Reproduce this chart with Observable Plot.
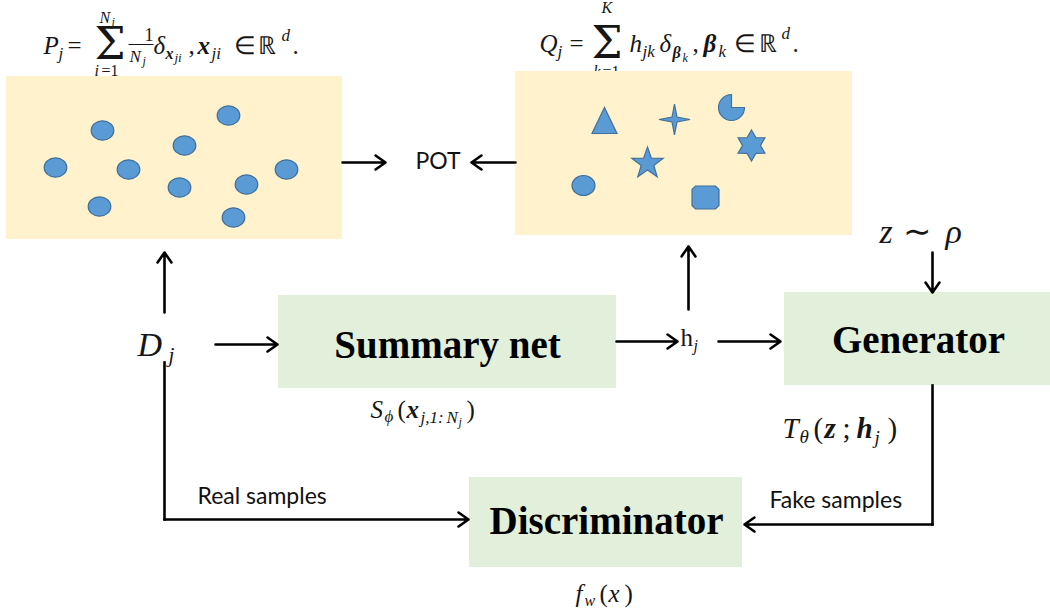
<!DOCTYPE html>
<html>
<head>
<meta charset="utf-8">
<script src="https://cdn.jsdelivr.net/npm/d3@7"></script>
<script src="https://cdn.jsdelivr.net/npm/@observablehq/plot@0.6"></script>
<style>
  html, body { margin: 0; padding: 0; background: #ffffff; }
  #chart svg { display: block; }
</style>
</head>
<body>
<div id="chart"></div>
<script>
// ---------- data ----------
const panels = [
  {name: "P", x1: 6, x2: 342, y1: 76, y2: 239},
  {name: "Q", x1: 515, x2: 852, y1: 71, y2: 235}
];
const blocks = [
  {label: "Summary net", x1: 278, x2: 616, y1: 295, y2: 388, cx: 447, cy: 345},
  {label: "Generator", x1: 784, x2: 1050, y1: 292, y2: 385, cx: 918, cy: 340},
  {label: "Discriminator", x1: 469, x2: 742, y1: 477, y2: 567, cx: 606, cy: 521}
];
const samplePoints = [
  {x: 102, y: 130}, {x: 55, y: 167}, {x: 128, y: 169}, {x: 99, y: 206},
  {x: 184, y: 145}, {x: 228, y: 115}, {x: 179, y: 187}, {x: 246, y: 184},
  {x: 286, y: 169}, {x: 233, y: 217}
];
const atoms = [
  {shape: "triangle", x: 604, y: 120},
  {shape: "sparkle", x: 674, y: 119},
  {shape: "pie", x: 731, y: 107},
  {shape: "hexagram", x: 751, y: 145},
  {shape: "star", x: 647, y: 163},
  {shape: "ellipse", x: 583, y: 185},
  {shape: "octagon", x: 705, y: 197}
];
const flowLines = [
  {x1: 164, y1: 362, x2: 164, y2: 519},
  {x1: 932, y1: 385, x2: 932, y2: 524}
];
const flowArrows = [
  {x1: 342, y1: 162, x2: 385, y2: 162},
  {x1: 515, y1: 162, x2: 471, y2: 162},
  {x1: 164, y1: 312, x2: 164, y2: 252},
  {x1: 215, y1: 344, x2: 277, y2: 344},
  {x1: 616, y1: 341, x2: 677, y2: 341},
  {x1: 688, y1: 309, x2: 688, y2: 246},
  {x1: 718, y1: 341, x2: 780, y2: 341},
  {x1: 932, y1: 252, x2: 932, y2: 292},
  {x1: 164, y1: 519, x2: 468, y2: 519},
  {x1: 932, y1: 524, x2: 744, y2: 524}
];
const plainLabels = [
  {text: "POT", x: 415, y: 168},
  {text: "Real samples", x: 197, y: 503},
  {text: "Fake samples", x: 769, y: 507}
];
const fractionBars = [{x1: 128, x2: 153, y1: 44, y2: 44}];
// math pieces: t = text, f = face (r roman, i italic, bi bold italic, s big operator)
const mathSegments = [
  // P_j = sum_{i=1}^{N_j} 1/N_j delta_{x_ji}, x_ji in R^d.
  {t: "P", x: 43, y: 53, size: 25, f: "i"},
  {t: "j", x: 58, y: 58, size: 17, f: "i"},
  {t: "=", x: 67, y: 53, size: 25, f: "r"},
  {t: "Σ", x: 94, y: 58, size: 44, f: "s"},
  {t: "N", x: 99, y: 22, size: 16, f: "i"},
  {t: "j", x: 111, y: 25, size: 12, f: "i"},
  {t: "i", x: 94, y: 75, size: 16, f: "i"},
  {t: "=1", x: 101, y: 75, size: 16, f: "r"},
  {t: "1", x: 144, y: 40, size: 18, f: "r"},
  {t: "N", x: 129, y: 61, size: 17, f: "i"},
  {t: "j", x: 142, y: 64, size: 12, f: "i"},
  {t: "δ", x: 153, y: 53, size: 25, f: "i"},
  {t: "x", x: 165, y: 58, size: 16, f: "bi"},
  {t: "ji", x: 174, y: 61, size: 13, f: "i"},
  {t: ",", x: 188, y: 53, size: 25, f: "r"},
  {t: "x", x: 197, y: 53, size: 25, f: "bi"},
  {t: "ji", x: 211, y: 58, size: 17, f: "i"},
  {t: "∈", x: 233, y: 53, size: 25, f: "r"},
  {t: "ℝ", x: 257, y: 53, size: 25, f: "r"},
  {t: "d", x: 281, y: 40, size: 17, f: "i"},
  {t: ".", x: 292, y: 53, size: 25, f: "r"},
  // Q_j = sum_{k=1}^{K} h_jk delta_{beta_k}, beta_k in R^d.
  {t: "Q", x: 539, y: 51, size: 25, f: "i"},
  {t: "j", x: 557, y: 56, size: 17, f: "i"},
  {t: "=", x: 569, y: 51, size: 25, f: "r"},
  {t: "Σ", x: 591, y: 57, size: 44, f: "s"},
  {t: "K", x: 601, y: 12, size: 16, f: "i"},
  {t: "k", x: 593, y: 76, size: 16, f: "i"},
  {t: "=1", x: 602, y: 76, size: 16, f: "r"},
  {t: "h", x: 629, y: 51, size: 25, f: "i"},
  {t: "jk", x: 642, y: 56, size: 17, f: "i"},
  {t: "δ", x: 659, y: 51, size: 25, f: "i"},
  {t: "β", x: 672, y: 57, size: 16, f: "bi"},
  {t: "k", x: 682, y: 61, size: 12, f: "i"},
  {t: ",", x: 692, y: 51, size: 25, f: "r"},
  {t: "β", x: 703, y: 51, size: 25, f: "bi"},
  {t: "k", x: 718, y: 56, size: 17, f: "i"},
  {t: "∈", x: 733, y: 51, size: 25, f: "r"},
  {t: "ℝ", x: 758, y: 51, size: 25, f: "r"},
  {t: "d", x: 781, y: 38, size: 17, f: "i"},
  {t: ".", x: 792, y: 51, size: 25, f: "r"},
  // D_j
  {t: "D", x: 137, y: 355, size: 34, f: "i"},
  {t: "j", x: 168, y: 361, size: 21, f: "i"},
  // h_j
  {t: "h", x: 680, y: 345, size: 25, f: "r"},
  {t: "j", x: 693, y: 350, size: 16, f: "i"},
  // S_phi(x_{j,1:N_j})
  {t: "S", x: 370, y: 417, size: 25, f: "i"},
  {t: "ϕ", x: 384, y: 421, size: 17, f: "i"},
  {t: "(", x: 397, y: 417, size: 25, f: "r"},
  {t: "x", x: 406, y: 417, size: 25, f: "bi"},
  {t: "j,1:", x: 420, y: 422, size: 17, f: "i"},
  {t: "N", x: 446, y: 422, size: 17, f: "i"},
  {t: "j", x: 458, y: 425, size: 12, f: "i"},
  {t: ")", x: 466, y: 417, size: 25, f: "r"},
  // z ~ rho
  {t: "z", x: 879, y: 242, size: 34, f: "i"},
  {t: "∼", x: 902, y: 242, size: 34, f: "r"},
  {t: "ρ", x: 945, y: 242, size: 34, f: "i"},
  // T_theta(z; h_j)
  {t: "T", x: 782, y: 437, size: 29, f: "i"},
  {t: "θ", x: 799, y: 442, size: 19, f: "i"},
  {t: "(", x: 813, y: 437, size: 29, f: "r"},
  {t: "z", x: 824, y: 437, size: 29, f: "bi"},
  {t: ";", x: 842, y: 437, size: 29, f: "r"},
  {t: "h", x: 856, y: 437, size: 29, f: "bi"},
  {t: "j", x: 874, y: 443, size: 19, f: "i"},
  {t: ")", x: 887, y: 437, size: 29, f: "r"},
  // f_w(x)
  {t: "f", x: 575, y: 601, size: 25, f: "i"},
  {t: "w", x: 584, y: 605, size: 16, f: "i"},
  {t: "(", x: 599, y: 601, size: 25, f: "r"},
  {t: "x", x: 608, y: 601, size: 25, f: "i"},
  {t: ")", x: 624, y: 601, size: 25, f: "r"}
];

// ---------- custom symbol shapes ----------
function polygon(pts) {
  return {draw(c) { c.moveTo(pts[0][0], pts[0][1]); for (let i = 1; i < pts.length; ++i) c.lineTo(pts[i][0], pts[i][1]); c.closePath(); }};
}
function starPts(n, R, r) {
  const pts = [];
  for (let i = 0; i < 2 * n; ++i) {
    const a = -Math.PI / 2 + i * Math.PI / n, rr = i % 2 ? r : R;
    pts.push([rr * Math.cos(a), rr * Math.sin(a)]);
  }
  return pts;
}
function ellipseSym(rx, ry) {
  const k = 0.5523;
  return {draw(c) {
    c.moveTo(rx, 0);
    c.bezierCurveTo(rx, ry * k, rx * k, ry, 0, ry);
    c.bezierCurveTo(-rx * k, ry, -rx, ry * k, -rx, 0);
    c.bezierCurveTo(-rx, -ry * k, -rx * k, -ry, 0, -ry);
    c.bezierCurveTo(rx * k, -ry, rx, -ry * k, rx, 0);
    c.closePath();
  }};
}
const hw = 13.5, hh = 11.5, ch = 3.5;
const symbolsByShape = {
  triangle: polygon([[0, -13], [12.5, 13], [-12.5, 13]]),
  sparkle: polygon(starPts(4, 15.5, 3.5)),
  pie: {draw(c) { const r = 13; c.moveTo(0, 0); c.lineTo(r, 0); c.arc(0, 0, r, 0, 1.5 * Math.PI); c.closePath(); }},
  hexagram: polygon(starPts(6, 15.5, 9)),
  star: polygon(starPts(5, 16.5, 6.6)),
  ellipse: ellipseSym(11.5, 10),
  octagon: polygon([[-hw + ch, -hh], [hw - ch, -hh], [hw, -hh + ch], [hw, hh - ch], [hw - ch, hh], [-hw + ch, hh], [-hw, hh - ch], [-hw, -hh + ch]])
};

const blue = "#5b9bd5", blueEdge = "#41719c";
const W = 1050, H = 609;
const lineStyle = {stroke: "#000", strokeWidth: 2.6};
const faces = {
  r: {fontFamily: "Liberation Serif", fontStyle: "normal", fontWeight: "normal"},
  i: {fontFamily: "Liberation Serif", fontStyle: "italic", fontWeight: "normal"},
  bi: {fontFamily: "Liberation Serif", fontStyle: "italic", fontWeight: "bold"},
  s: {fontFamily: "DejaVu Serif", fontStyle: "normal", fontWeight: "normal"}
};

const marks = [];
for (const f of Object.keys(faces)) {
  marks.push(Plot.text(mathSegments.filter(d => d.f === f), {
    x: "x", y: "y", text: "t", fontSize: "size",
    textAnchor: "start", lineAnchor: "bottom",
    ...faces[f], fill: "#161616"
  }));
}
marks.push(Plot.link(fractionBars, {x1: "x1", x2: "x2", y1: "y1", y2: "y2", stroke: "#161616", strokeWidth: 1}));
marks.push(Plot.rect(panels, {x1: "x1", x2: "x2", y1: "y1", y2: "y2", fill: "#fff2cc"}));
marks.push(Plot.rect(blocks, {x1: "x1", x2: "x2", y1: "y1", y2: "y2", fill: "#e2efda"}));
marks.push(Plot.dot(samplePoints, {x: "x", y: "y", symbol: ellipseSym(11.3, 9.7), fill: blue, stroke: blueEdge, strokeWidth: 1.2}));
for (const s of Object.keys(symbolsByShape)) {
  marks.push(Plot.dot(atoms.filter(d => d.shape === s), {x: "x", y: "y", symbol: symbolsByShape[s], fill: blue, stroke: blueEdge, strokeWidth: 1.2}));
}
marks.push(Plot.link(flowLines, {x1: "x1", x2: "x2", y1: "y1", y2: "y2", ...lineStyle, strokeLinecap: "square"}));
marks.push(Plot.arrow(flowArrows, {x1: "x1", x2: "x2", y1: "y1", y2: "y2", ...lineStyle, headLength: 7, headAngle: 70, bend: 0}));
marks.push(Plot.text(blocks, {x: "cx", y: "cy", text: "label", fontFamily: "Liberation Serif", fontWeight: "bold", fontSize: 39, fill: "#000"}));
marks.push(Plot.text(plainLabels, {x: "x", y: "y", text: "text", textAnchor: "start", lineAnchor: "bottom", fontFamily: "Lato", fontSize: 23, fill: "#111"}));

const chart = Plot.plot({
  width: W, height: H, margin: 0,
  x: {domain: [0, W], range: [0, W], axis: null},
  y: {domain: [0, H], range: [0, H], axis: null},
  style: {background: "#ffffff", overflow: "visible"},
  marks
});
document.getElementById("chart").append(chart);
</script>
</body>
</html>
